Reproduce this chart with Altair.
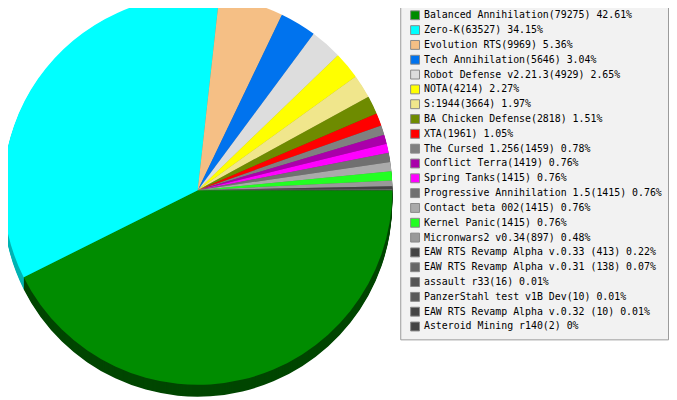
import math
import altair as alt
import pandas as pd

names = [
    "Balanced Annihilation", "Zero-K", "Evolution RTS", "Tech Annihilation",
    "Robot Defense v2.21.3", "NOTA", "S:1944", "BA Chicken Defense", "XTA",
    "The Cursed 1.256", "Conflict Terra", "Spring Tanks",
    "Progressive Annihilation 1.5", "Contact beta 002", "Kernel Panic",
    "Micronwars2 v0.34", "EAW RTS Revamp Alpha v.0.33 ",
    "EAW RTS Revamp Alpha v.0.31 ", "assault r33", "PanzerStahl test v1B Dev",
    "EAW RTS Revamp Alpha v.0.32 ", "Asteroid Mining r140",
]
values = [79275, 63527, 9969, 5646, 4929, 4214, 3664, 2818, 1961, 1459, 1419,
          1415, 1415, 1415, 1415, 897, 413, 138, 16, 10, 10, 2]
pcts = ["42.61", "34.15", "5.36", "3.04", "2.65", "2.27", "1.97", "1.51", "1.05",
        "0.78", "0.76", "0.76", "0.76", "0.76", "0.76", "0.48", "0.22", "0.07",
        "0.01", "0.01", "0.01", "0"]
colors = ["#008C00", "#00FFFF", "#F5BF85", "#0073EE", "#DDDDDD", "#FFFF00",
          "#F0E68C", "#6E8B00", "#FF0000", "#808080", "#AA00AA", "#FF00FF",
          "#707070", "#AAAAAA", "#22FF22", "#999999", "#444444", "#666666",
          "#555555", "#5A5A5A", "#454545", "#444444"]
sides = ["#004600", "#00B4B4", "#B08A60", "#0050A8", "#A0A0A0", "#B4B400",
         "#AAA264", "#4C6200", "#B40000", "#5A5A5A", "#780078", "#B400B4",
         "#4E4E4E", "#787878", "#18B418", "#6C6C6C", "#303030", "#484848",
         "#3C3C3C", "#404040", "#303030", "#303030"]

labels = [f"{n}({v}) {p}%" for n, v, p in zip(names, values, pcts)]

df = pd.DataFrame({
    "idx": list(range(len(names))),
    "label": labels,
    "value": values,
    "side": sides,
})

cx, cy, r = 192, 182, 197
theta = alt.Theta("value:Q", stack=True,
                  scale=alt.Scale(range=[math.pi / 2, math.pi / 2 + 2 * math.pi]))
base = alt.Chart(df)

layers = []
for off in range(12, 0, -1):
    layers.append(
        base.mark_arc(radius=r, yOffset=off).encode(
            theta=theta,
            order=alt.Order("idx:Q"),
            fill=alt.Fill("side:N", scale=None),
            x=alt.value(cx),
            y=alt.value(cy),
        )
    )

top = base.mark_arc(radius=r).encode(
    theta=theta,
    order=alt.Order("idx:Q"),
    color=alt.Color(
        "label:N",
        sort=labels,
        scale=alt.Scale(domain=labels, range=colors),
        legend=alt.Legend(
            orient="none", legendX=397, legendY=-6, title=None,
            fillColor="#F2F2F2", strokeColor="#999999", padding=6,
            cornerRadius=0, symbolOffset=4,
            symbolType="square", symbolSize=81, symbolStrokeColor="#888888",
            symbolStrokeWidth=1, labelFont="DejaVu Sans Mono", labelFontSize=10,
            labelColor="#000000", labelLimit=400, rowPadding=1, labelOffset=4,
            symbolLimit=50,
        ),
    ),
    x=alt.value(cx),
    y=alt.value(cy),
)
layers.append(top)

chart = alt.layer(*layers).properties(
    width=669, height=392, autosize="none", padding=0
).configure_view(strokeWidth=0)

chart.save("out.html", embed_options={"renderer": "svg", "actions": False})
